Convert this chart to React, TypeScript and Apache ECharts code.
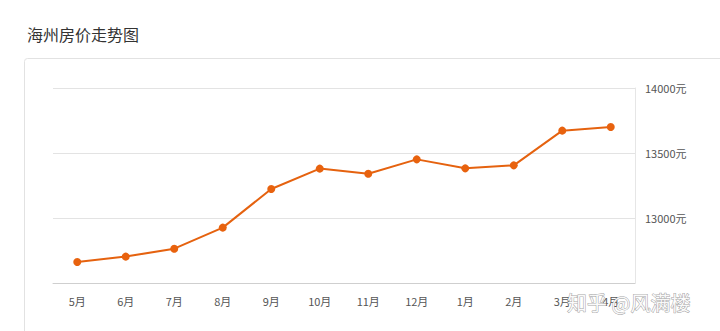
import React, { useEffect, useRef } from "react";
import * as echarts from "echarts";

const title = "海州房价走势图";
const months = ["5月", "6月", "7月", "8月", "9月", "10月", "11月", "12月", "1月", "2月", "3月", "4月"];
const prices = [12662, 12703, 12764, 12926, 13223, 13380, 13341, 13451, 13382, 13405, 13672, 13700];
const yTicks = [12500, 13000, 13500, 14000];
const unit = "元";
const watermark = "知乎 @风满楼";

export default function App() {
  const ref = useRef<HTMLDivElement>(null);
  useEffect(() => {
    document.body.style.margin = "0";
    const chart = echarts.init(ref.current!, null, { renderer: "svg" });
    const font = "'Noto Sans CJK SC', 'Noto Sans', sans-serif";
    chart.setOption({
      animation: false,
      backgroundColor: "#fff",
      title: {
        text: title,
        left: 22,
        top: 21,
        textStyle: { fontSize: 16, fontWeight: "normal", color: "#333", fontFamily: font },
      },
      grid: { left: 53, right: 85, top: 88, bottom: 48 },
      xAxis: {
        type: "category",
        data: months,
        boundaryGap: true,
        axisLine: { lineStyle: { color: "#cfcfcf", width: 1 } },
        axisTick: { alignWithLabel: true, length: 4, lineStyle: { color: "#e0e0e0" } },
        axisLabel: { color: "#555", fontSize: 11, fontFamily: font, margin: 12 },
        splitLine: { show: false },
      },
      yAxis: {
        type: "value",
        position: "right",
        min: yTicks[0],
        max: yTicks[yTicks.length - 1],
        interval: 500,
        axisLine: { show: true, lineStyle: { color: "#e6e6e6" } },
        axisTick: { show: false },
        axisLabel: {
          color: "#555",
          fontSize: 11,
          fontFamily: font,
          margin: 10,
          showMinLabel: false,
          formatter: (v: number) => v + unit,
        },
        splitLine: { lineStyle: { color: "#e3e3e3" } },
      },
      series: [
        {
          type: "line",
          data: prices,
          symbol: "circle",
          symbolSize: 8,
          lineStyle: { color: "#e5620f", width: 2 },
          itemStyle: { color: "#e8620e" },
        },
      ],
      graphic: [
        {
          type: "rect",
          shape: { x: 24.5, y: 58.5, width: 720, height: 300, r: 3 },
          style: { fill: "none", stroke: "#e2e2e2", lineWidth: 1 },
          z: -1,
          silent: true,
        },
        {
          type: "text",
          x: 567,
          y: 302,
          style: {
            text: watermark,
            fontSize: 20,
            fontFamily: font,
            fill: "rgba(255,255,255,0.92)",
            stroke: "rgba(120,120,120,0.7)",
            lineWidth: 1,
            verticalAlign: "middle",
          },
          z: 100,
        },
      ],
    });
    return () => chart.dispose();
  }, []);
  return <div ref={ref} style={{ position: "fixed", left: 0, top: 0, width: 720, height: 331 }} />;
}
